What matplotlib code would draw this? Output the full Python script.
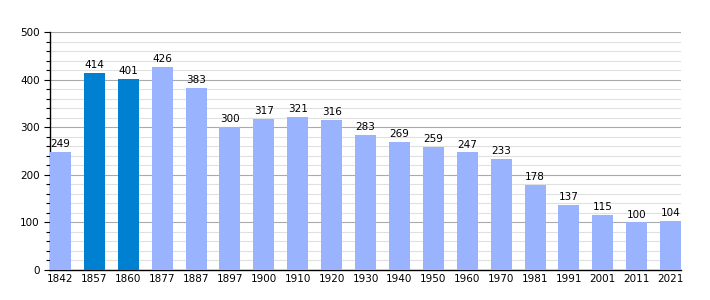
import matplotlib.pyplot as plt
from matplotlib.ticker import MultipleLocator

years = ['1842', '1857', '1860', '1877', '1887', '1897', '1900', '1910', '1920', '1930',
         '1940', '1950', '1960', '1970', '1981', '1991', '2001', '2011', '2021']
population = [249, 414, 401, 426, 383, 300, 317, 321, 316, 283,
              269, 259, 247, 233, 178, 137, 115, 100, 104]
highlight = ['1857', '1860']

light = '#99b3ff'
dark = '#0080d0'
colors = [dark if y in highlight else light for y in years]

fig = plt.figure(figsize=(7.1, 3.0), dpi=100)
ax = fig.add_axes([0.0704, 0.1, 0.889, 0.793])

w = 0.62
x = list(range(len(years)))
ax.bar(x, population, width=w, color=colors, zorder=3)
for xi, v in zip(x, population):
    ax.text(xi, v + 6, str(v), ha='center', va='bottom', fontsize=7.5, zorder=4)

ax.set_xlim(-w / 2, len(years) - 1 + w / 2)
ax.set_ylim(0, 500)
ax.set_xticks(x)
ax.set_xticklabels(years, fontsize=7.5)
ax.yaxis.set_major_locator(MultipleLocator(100))
ax.yaxis.set_minor_locator(MultipleLocator(20))
ax.tick_params(axis='y', labelsize=7.5, length=4, width=0.8)
ax.tick_params(axis='y', which='minor', length=3, width=0.8)
ax.tick_params(axis='x', length=0, pad=3)

ax.grid(axis='y', which='major', color='#aaaaaa', linewidth=0.8, zorder=0)
ax.grid(axis='y', which='minor', color='#e0e0e0', linewidth=0.8, zorder=0)

for s in ['top', 'right']:
    ax.spines[s].set_visible(False)
ax.spines['left'].set_linewidth(1.0)
ax.spines['bottom'].set_linewidth(1.0)

fig.savefig('out.png', dpi=100)
